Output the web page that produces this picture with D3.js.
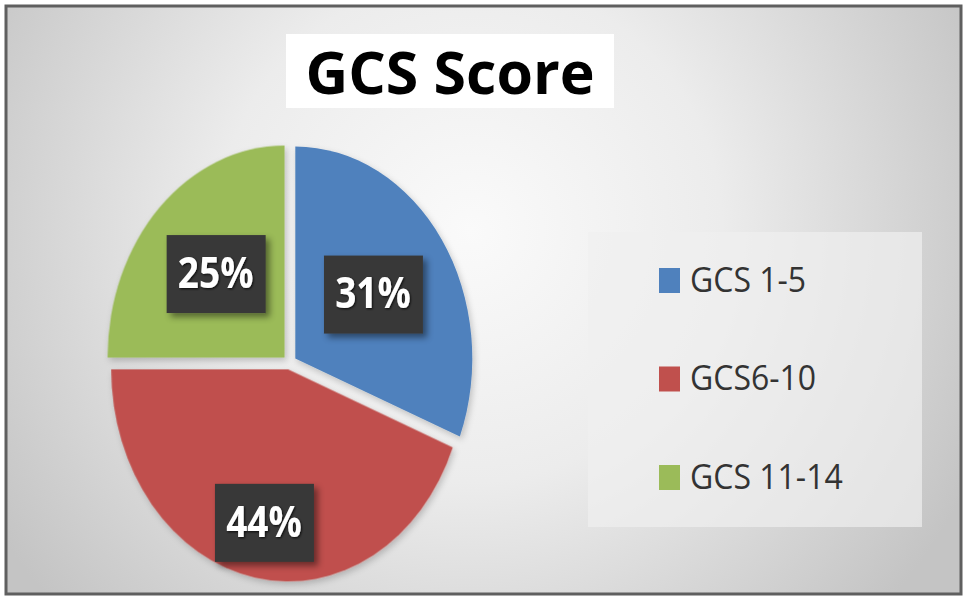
<!DOCTYPE html>
<html>
<head>
<meta charset="utf-8">
<script src="https://cdn.jsdelivr.net/npm/d3@7"></script>
<style>
  body { margin: 0; background: #fff; }
  svg { display: block; }
</style>
</head>
<body>
<div id="Chart"></div>
<script>
// data
var categories = ["GCS 1-5", "GCS6-10", "GCS 11-14"];
var values = [31, 44, 25];
var colors = ["#4f81bd", "#c0504d", "#9bbb59"];
var title = "GCS Score";

var width = 963, height = 598;

var svg = d3.select("#Chart")
            .append("svg")
            .attr("class", "chart")
            .attr("width", width)
            .attr("height", height);

var defs = svg.append("defs");

// background gradient (white middle, grey edges)
var bg = defs.append("radialGradient")
             .attr("id", "bg")
             .attr("gradientUnits", "userSpaceOnUse")
             .attr("cx", 470).attr("cy", 230).attr("r", 560);
bg.append("stop").attr("offset", "0%").attr("stop-color", "#fafafa");
bg.append("stop").attr("offset", "45%").attr("stop-color", "#ececec");
bg.append("stop").attr("offset", "100%").attr("stop-color", "#c4c4c4");

var shadow = defs.append("filter").attr("id", "shadow")
                 .attr("x", "-20%").attr("y", "-20%").attr("width", "150%").attr("height", "150%");
shadow.append("feDropShadow").attr("dx", 4).attr("dy", 4).attr("stdDeviation", 3)
      .attr("flood-color", "#000").attr("flood-opacity", 0.45);

var txtShadow = defs.append("filter").attr("id", "txtshadow");
txtShadow.append("feDropShadow").attr("dx", 1).attr("dy", 1).attr("stdDeviation", 0.8)
         .attr("flood-color", "#000").attr("flood-opacity", 0.8);

var pieShadow = defs.append("filter").attr("id", "pieshadow")
                    .attr("x", "-10%").attr("y", "-10%").attr("width", "125%").attr("height", "125%");
pieShadow.append("feDropShadow").attr("dx", 2).attr("dy", 3).attr("stdDeviation", 3)
         .attr("flood-color", "#000").attr("flood-opacity", 0.2);

svg.append("rect")
   .attr("x", 6).attr("y", 6)
   .attr("width", width - 8).attr("height", height - 10)
   .attr("fill", "url(#bg)")
   .attr("stroke", "#5f5f5f")
   .attr("stroke-width", 3);

// title
svg.append("rect")
   .attr("x", 286).attr("y", 34)
   .attr("width", 328).attr("height", 74)
   .attr("fill", "#fff");
svg.append("text")
   .attr("x", 450).attr("y", 94)
   .attr("text-anchor", "middle")
   .style("font-family", "'Open Sans', sans-serif")
   .style("font-weight", "bold")
   .style("font-size", "59px")
   .style("fill", "#000")
   .text(title);

// pie (drawn as an ellipse)
var cx = 289.5, cy = 362.5, rx = 177, ry = 212;
var explode = 7;
var labelFrac = [0.57, 0.77, 0.59];

var pie = d3.pie().sort(null).value(function(d){ return d; });
var arcs = pie(values);
var arc = d3.arc().innerRadius(0).outerRadius(rx);

var pieG = svg.append("g").attr("filter", "url(#pieshadow)");
pieG.selectAll("path")
    .data(arcs)
    .enter()
    .append("path")
    .attr("transform", function(d){
        var a = (d.startAngle + d.endAngle) / 2;
        var dx = Math.sin(a) * explode, dy = -Math.cos(a) * explode;
        return "translate(" + (cx + dx) + "," + (cy + dy) + ") scale(1," + (ry / rx) + ")";
    })
    .attr("d", arc)
    .attr("fill", function(d, i){ return colors[i]; });

// data labels
var lab = svg.selectAll("g.label")
             .data(arcs)
             .enter()
             .append("g")
             .attr("class", "label")
             .attr("transform", function(d, i){
                 var a = (d.startAngle + d.endAngle) / 2;
                 var x = cx + Math.sin(a) * rx * labelFrac[i];
                 var y = cy - Math.cos(a) * ry * labelFrac[i];
                 return "translate(" + x + "," + y + ")";
             });
lab.append("rect")
   .attr("x", -49).attr("y", -39)
   .attr("width", 99).attr("height", 78)
   .attr("fill", "#383838")
   .attr("filter", "url(#shadow)");
lab.append("text")
   .attr("y", 12)
   .attr("transform", "scale(1,1.15)")
   .attr("text-anchor", "middle")
   .style("font-family", "'Open Sans', sans-serif")
   .style("font-weight", "bold")
   .style("font-size", "37px")
   .style("fill", "#fff")
   .attr("filter", "url(#txtshadow)")
   .text(function(d){ return d.value + "%"; });

// legend
svg.append("rect")
   .attr("x", 588).attr("y", 232)
   .attr("width", 334).attr("height", 295)
   .attr("fill", "#f0f0f0")
   .attr("opacity", 0.7);

var ly = d3.scalePoint().domain(categories).range([280, 477]);
var leg = svg.selectAll("g.legend")
             .data(categories)
             .enter()
             .append("g")
             .attr("class", "legend")
             .attr("transform", function(d){ return "translate(659," + ly(d) + ")"; });
leg.append("rect")
   .attr("x", 0).attr("y", -12)
   .attr("width", 21).attr("height", 25)
   .attr("fill", function(d, i){ return colors[i]; });
leg.append("text")
   .attr("x", 31).attr("y", 11)
   .attr("transform", "scale(1,1.08)")
   .style("font-family", "'Open Sans', sans-serif")
   .style("font-size", "32px")
   .style("fill", "#333")
   .text(function(d){ return d; });
</script>
</body>
</html>
